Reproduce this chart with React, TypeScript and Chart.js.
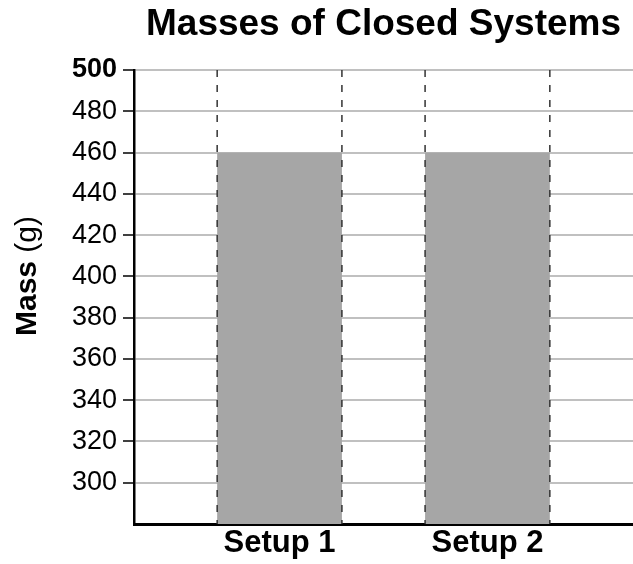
import React, { useEffect, useRef } from 'react';
import { Chart, registerables } from 'chart.js';

Chart.register(...registerables);

const chartTitle = 'Masses of Closed Systems';
const categories = ['Setup 1', 'Setup 2'];
const categoryPositions = [1, 2];
const masses = [460, 460];
const yTickValues = [300, 320, 340, 360, 380, 400, 420, 440, 460, 480, 500];
const yMin = 280;
const yMax = 500;
const xMin = 0.3;
const xMax = 2.7;
const barWidthFraction = 0.6;
const yLabelBold = 'Mass';
const yLabelNormal = ' (g)';

const FONT = "'Liberation Sans', Arial, Helvetica, sans-serif";

export default function App() {
  const ref = useRef<HTMLCanvasElement>(null);

  useEffect(() => {
    if (!ref.current) return;

    const edgePlugin = {
      id: 'barEdges',
      afterDatasetsDraw(chart: any) {
        const ctx = chart.ctx;
        const { top, bottom } = chart.chartArea;
        const meta = chart.getDatasetMeta(0);
        ctx.save();
        ctx.strokeStyle = '#333';
        ctx.lineWidth = 1.5;
        ctx.setLineDash([7, 8]);
        meta.data.forEach((bar: any) => {
          const { x, width } = bar.getProps(['x', 'width'], true);
          [x - width / 2, x + width / 2].forEach((px) => {
            ctx.beginPath();
            ctx.moveTo(px, top);
            ctx.lineTo(px, bottom);
            ctx.stroke();
          });
        });
        ctx.restore();
      },
    };

    const yLabelPlugin = {
      id: 'yLabel',
      afterDraw(chart: any) {
        const ctx = chart.ctx;
        const { top, bottom } = chart.chartArea;
        ctx.save();
        ctx.fillStyle = '#000';
        ctx.font = `bold 30px ${FONT}`;
        const w1 = ctx.measureText(yLabelBold).width;
        ctx.font = `30px ${FONT}`;
        const w2 = ctx.measureText(yLabelNormal).width;
        const total = w1 + w2;
        const cy = (top + bottom) / 2 - 21;
        ctx.translate(36, cy);
        ctx.rotate(-Math.PI / 2);
        ctx.textAlign = 'left';
        ctx.textBaseline = 'alphabetic';
        ctx.font = `bold 30px ${FONT}`;
        ctx.fillText(yLabelBold, -total / 2, 0);
        ctx.font = `30px ${FONT}`;
        ctx.fillText(yLabelNormal, -total / 2 + w1, 0);
        ctx.restore();
      },
    };

    const chart = new Chart(ref.current, {
      type: 'bar',
      data: {
        datasets: [
          {
            data: categoryPositions.map((x, i) => ({ x, y: masses[i] })),
            backgroundColor: '#a6a6a6',
            borderWidth: 0,
            categoryPercentage: 1,
            barPercentage: barWidthFraction,
          },
        ],
      },
      options: {
        responsive: false,
        animation: false,
        layout: { padding: 0 },
        plugins: {
          legend: { display: false },
          tooltip: { enabled: false },
          title: {
            display: true,
            text: chartTitle,
            fullSize: false,
            color: '#000',
            font: { family: FONT, size: 37, weight: 'bold', lineHeight: 1.2 },
            padding: { top: 3, bottom: 22.6 },
          },
        },
        scales: {
          x: {
            type: 'linear',
            min: xMin,
            max: xMax,
            offset: false,
            bounds: 'data',
            afterBuildTicks: (s: any) => {
              s.ticks = categoryPositions.map((v) => ({ value: v }));
            },
            afterFit: (s: any) => {
              s.height = 40;
            },
            grid: { display: false, drawTicks: false, offset: false },
            border: { display: true, color: '#000', width: 3 },
            ticks: {
              callback: (v: any) => {
                const i = categoryPositions.indexOf(Number(v));
                return i >= 0 ? categories[i] : '';
              },
              padding: 1,
              color: '#000',
              autoSkip: false,
              maxRotation: 0,
              font: { family: FONT, size: 31, weight: 'bold' },
            },
          },
          y: {
            type: 'linear',
            min: yMin,
            max: yMax,
            afterBuildTicks: (s: any) => {
              s.ticks = yTickValues.map((v) => ({ value: v }));
            },
            afterFit: (s: any) => {
              s.width = 134;
            },
            grid: {
              color: '#c0c0c0',
              lineWidth: 2,
              tickColor: '#000',
              tickWidth: 1.5,
              tickLength: 11,
            },
            border: { display: true, color: '#000', width: 2.5 },
            ticks: {
              padding: 6,
              color: '#000',
              font: (ctx: any) => ({
                family: FONT,
                size: 27,
                weight: ctx.tick && ctx.tick.value === yMax ? 'bold' : 'normal',
              }),
            },
          },
        },
      },
      plugins: [edgePlugin, yLabelPlugin],
    } as any);

    return () => chart.destroy();
  }, []);

  return (
    <div style={{ position: 'absolute', left: 0, top: 0, width: 633, height: 564, background: '#fff' }}>
      <canvas ref={ref} width={633} height={564} style={{ display: 'block' }} />
    </div>
  );
}
